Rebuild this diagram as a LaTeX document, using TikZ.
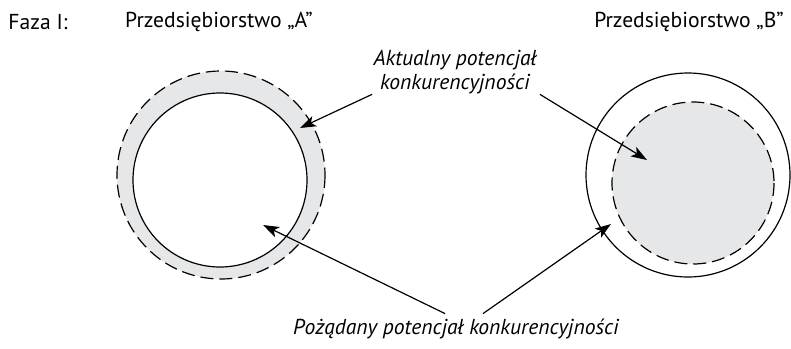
\documentclass[tikz,border=0pt]{standalone}
\usepackage{fontspec}
\setmainfont{PT Sans}
\usetikzlibrary{arrows.meta}
\definecolor{ringgray}{RGB}{230,231,232}

\begin{document}
\begin{tikzpicture}[x=0.5pt,y=-0.5pt,
    lbl/.style={font=\fontsize{10.8}{12}\selectfont, inner sep=0pt, align=center},
    pointer/.style={-{Stealth[length=8pt,width=5.5pt,inset=2pt]}, line width=0.6pt},
    dashring/.style={dash pattern=on 6.5pt off 3pt, line width=0.6pt},
    solidring/.style={line width=0.6pt}]
  \useasboundingbox (0,0) rectangle (791,348);
  % Przedsiebiorstwo A
  \fill[ringgray] (221,175) circle (104);
  \fill[white] (220,180) circle (87);
  \draw[dashring] (221,175) circle (104);
  \draw[solidring] (220,180) circle (87);
  % Przedsiebiorstwo B
  \draw[solidring] (688,175) circle (102);
  \fill[ringgray] (693,183) circle (81);
  \draw[dashring] (693,183) circle (81);
  % naglowki
  \node[lbl] (faza) at (38,22) {Faza I:};
  \node[lbl] (firmaA) at (219,22) {Przedsiębiorstwo „A”};
  \node[lbl] (firmaB) at (689,22) {Przedsiębiorstwo „B”};
  % opisy
  \node[lbl, font=\fontsize{10.8}{12}\selectfont\itshape] (aktualny) at (455,72)
    {Aktualny potencjał\\konkurencyjności};
  \node[lbl, font=\fontsize{10.8}{12}\selectfont\itshape] (pozadany) at (456,329)
    {Pożądany potencjał konkurencyjności};
  \coordinate (tipA1) at (300,128);
  \coordinate (tipB1) at (647,160);
  \coordinate (tipA2) at (263,225);
  \coordinate (tipB2) at (611,224);
  \draw[pointer] ([xshift=-0.5pt]aktualny.south west) -- (tipA1);
  \draw[pointer] ([xshift=1.5pt]aktualny.south east) -- (tipB1);
  \draw[pointer] ([xshift=-5.5pt,yshift=2.5pt]pozadany.north) -- (tipA2);
  \draw[pointer] ([xshift=13.5pt,yshift=2.5pt]pozadany.north) -- (tipB2);
\end{tikzpicture}
\end{document}
